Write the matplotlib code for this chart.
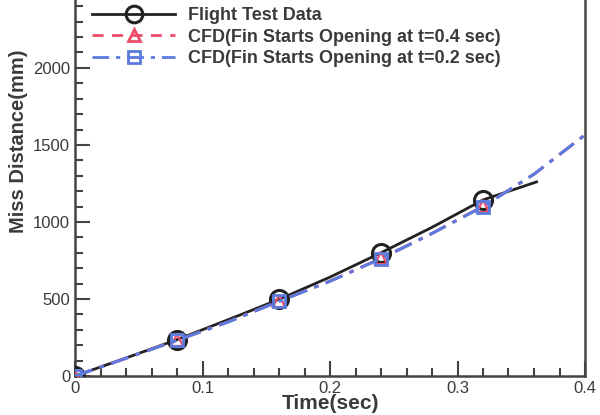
import matplotlib
matplotlib.use("Agg")
import matplotlib.pyplot as plt
from matplotlib.lines import Line2D
from matplotlib.ticker import MultipleLocator

plt.rcParams['font.family'] = ['Liberation Sans', 'DejaVu Sans']

# time samples (sec)
t_flight = [0.0, 0.04, 0.08, 0.12, 0.16, 0.20, 0.24, 0.28, 0.32, 0.362]
miss_flight = [0, 117, 236, 365, 497, 642, 800, 965, 1143, 1260]

t_cfd = [0.0, 0.04, 0.08, 0.12, 0.16, 0.20, 0.24, 0.28, 0.32, 0.36, 0.40]
miss_cfd04 = [0, 115, 232, 351, 485, 616, 763, 926, 1101, 1310, 1565]
miss_cfd02 = [0, 115, 232, 350, 485, 615, 762, 925, 1100, 1310, 1565]

labels = ["Flight Test Data",
          "CFD(Fin Starts Opening at t=0.4 sec)",
          "CFD(Fin Starts Opening at t=0.2 sec)"]

txt = '#3a3a3a'
blue = '#5a7be0'
red = '#ee4d6a'
dashdot = (0, (6, 2.5, 1.5, 2.5))

fig = plt.figure(figsize=(6.0, 4.15), dpi=100)
ax = fig.add_axes([0.125, 0.094, 0.85, 0.928])

mk = slice(0, 9, 2)
ax.plot(t_flight, miss_flight, color='#222222', lw=2, marker='o', ms=13,
        mfc='none', mec='#222222', mew=2.2, markevery=mk, zorder=3)
# red curve lies almost exactly under the blue one
ax.plot(t_cfd, miss_cfd04, color=red, lw=2.2, ls=dashdot, marker='^', ms=8,
        mfc='none', mec=red, mew=1.6, markevery=mk, zorder=4)
ax.plot(t_cfd, miss_cfd02, color=blue, lw=2.2, ls=dashdot, marker='s', ms=8,
        mfc='none', mec=blue, mew=2, markevery=mk, zorder=5)

ax.set_xlim(0, 0.4)
ax.set_ylim(0, 2500)
ax.xaxis.set_minor_locator(MultipleLocator(0.02))
ax.yaxis.set_major_locator(MultipleLocator(500))
ax.yaxis.set_minor_locator(MultipleLocator(100))
ax.set_xticks([0, 0.1, 0.2, 0.3, 0.4], ['0', '0.1', '0.2', '0.3', '0.4'])

ax.tick_params(which='both', direction='in', width=1.5, colors='#444444',
               labelcolor=txt, labelsize=12, top=False, right=False)
ax.tick_params(which='major', length=11)
ax.tick_params(which='minor', length=6)
for s in ax.spines.values():
    s.set_linewidth(1.8)
    s.set_color('#444444')

ax.set_xlabel("Time(sec)", fontsize=15, fontweight='bold', color=txt, labelpad=-1)
ax.set_ylabel("Miss Distance(mm)", fontsize=14.5, fontweight='bold', color=txt)
ax.yaxis.set_label_coords(-0.092, 0.61)

handles = [
    Line2D([], [], color='#222222', lw=2, marker='o', ms=12, mfc='none', mew=2.2),
    Line2D([], [], color=red, lw=2, ls=(0, (4, 3)), marker='^', ms=9, mfc='none', mew=2),
    Line2D([], [], color=blue, lw=2, ls=dashdot, marker='s', ms=8, mfc='none', mew=2),
]
leg = ax.legend(handles, labels, loc='upper left', bbox_to_anchor=(0.02, 0.977),
                frameon=False, handlelength=4.6, fontsize=13, labelspacing=0.26,
                handletextpad=0.7, borderaxespad=0)
for tx in leg.get_texts():
    tx.set_fontweight('bold')
    tx.set_color(txt)

fig.savefig("out.png", dpi=100)
